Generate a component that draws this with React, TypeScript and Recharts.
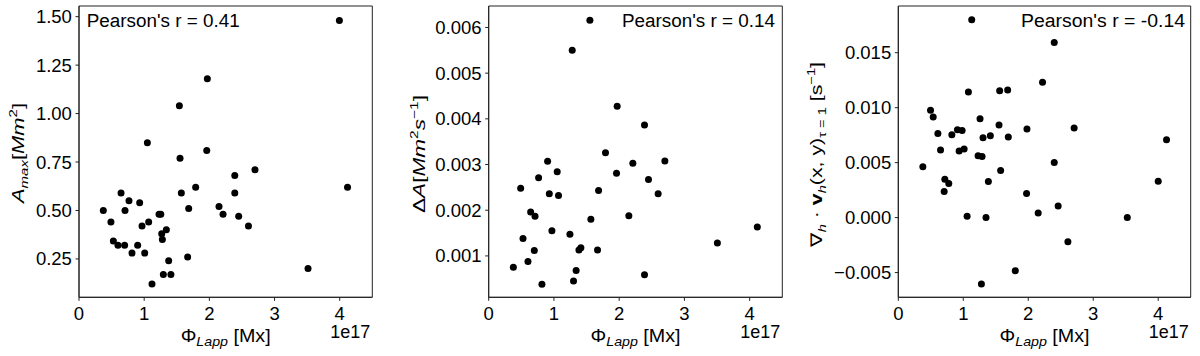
import React from 'react';
import { ScatterChart, Scatter, XAxis, YAxis, ReferenceArea } from 'recharts';

// Φ_Lapp in units of 1e17 Mx
const fluxA = [0.373, 0.49, 0.527, 0.598, 0.645, 0.70, 0.706, 0.767, 0.813, 0.90, 0.931, 0.967, 1.008, 1.049, 1.069, 1.12, 1.228, 1.255, 1.269, 1.279, 1.294, 1.34, 1.376, 1.41, 1.54, 1.55, 1.57, 1.667, 1.683, 1.79, 1.96, 1.969, 2.148, 2.21, 2.39, 2.39, 2.45, 2.60, 2.70, 3.514, 3.995, 4.12];
const areaMax = [0.50, 0.44, 0.342, 0.32, 0.59, 0.32, 0.50, 0.55, 0.28, 0.32, 0.54, 0.42, 0.28, 0.85, 0.44, 0.12, 0.48, 0.48, 0.38, 0.35, 0.17, 0.40, 0.24, 0.17, 1.04, 0.77, 0.59, 0.26, 0.51, 0.62, 0.81, 1.18, 0.52, 0.48, 0.59, 0.68, 0.47, 0.42, 0.71, 0.20, 1.48, 0.62];

const fluxB = [0.378, 0.49, 0.526, 0.602, 0.643, 0.699, 0.71, 0.765, 0.816, 0.903, 0.929, 0.969, 1.05, 1.07, 1.245, 1.28, 1.30, 1.34, 1.383, 1.413, 1.551, 1.566, 1.668, 1.684, 1.79, 1.959, 1.969, 2.148, 2.209, 2.388, 2.388, 2.449, 2.597, 2.70, 3.505, 4.117];
const deltaA = [0.00075, 0.00248, 0.00138, 0.00088, 0.00196, 0.00112, 0.00187, 0.00271, 0.00038, 0.00307, 0.00236, 0.00155, 0.00284, 0.00232, 0.001475, 0.0055, 0.00045, 0.00068, 0.00113, 0.00118, 0.00616, 0.0018, 0.00113, 0.00243, 0.00326, 0.00281, 0.004275, 0.00188, 0.00303, 0.003866, 0.00059, 0.00267, 0.00236, 0.00308, 0.00128, 0.00163];

const fluxC = [0.378, 0.496, 0.537, 0.609, 0.65, 0.706, 0.716, 0.777, 0.824, 0.91, 0.936, 0.982, 1.013, 1.059, 1.079, 1.13, 1.228, 1.258, 1.289, 1.279, 1.304, 1.35, 1.386, 1.417, 1.55, 1.56, 1.575, 1.683, 1.693, 1.80, 1.974, 1.98, 2.153, 2.22, 2.40, 2.40, 2.46, 2.61, 2.706, 3.524, 4.0, 4.128];
const divergence = [0.00462, 0.00976, 0.00915, 0.00766, 0.00614, 0.00237, 0.0035, 0.0031, 0.00754, 0.00799, 0.00605, 0.00793, 0.00623, 0.00012, 0.01143, 0.01799, 0.00562, 0.009, 0.00556, -0.00605, 0.00726, 0.0, 0.00328, 0.00745, 0.00842, 0.01155, 0.00429, 0.01161, 0.00733, -0.00483, 0.00219, 0.00805, 0.00043, 0.01231, 0.01593, 0.00502, 0.00106, -0.00219, 0.00815, 0.0, 0.00331, 0.00708];

const xTicks = [0, 1, 2, 3, 4];
const xDomain: [number, number] = [0, 4.5];
const ticksA = [0.25, 0.5, 0.75, 1.0, 1.25, 1.5];
const ticksB = [0.001, 0.002, 0.003, 0.004, 0.005, 0.006];
const ticksC = [-0.005, 0, 0.005, 0.01, 0.015];
const pearson = ["Pearson's r = 0.41", "Pearson's r = 0.14", "Pearson's r = -0.14"];

const FONT = "'Liberation Sans', Arial, sans-serif";
const AX = '#222';
const FS = 18.5;

const toRows = (xs: number[], ys: number[]) => xs.map((x, i) => ({ x, y: ys[i] }));

const Dot = (p: any) => <circle cx={p.cx} cy={p.cy} r={3.5} fill="#000" />;

const fmtSigned = (d: number) => (v: number) => (v < 0 ? '\u2212' + Math.abs(v).toFixed(d) : Math.abs(v).toFixed(d));

const W = 400;
const H = 356;
const TOP = 6;
const XAXIS_H = 58.7;

interface PanelProps {
  left: number;
  right: number;
  rows: { x: number; y: number }[];
  yDomain: [number, number];
  yTicks: number[];
  fmt: (v: number) => string;
  yLabel: React.ReactNode;
  pearsonText: string;
  pearsonLeft: boolean;
  pearsonX: number;
}

const Panel = ({ left, right, rows, yDomain, yTicks, fmt, yLabel, pearsonText, pearsonLeft, pearsonX }: PanelProps) => {
  const plotRight = W - right;
  const cx = (left + plotRight) / 2;
  return (
    <ScatterChart width={W} height={H} margin={{ top: TOP, right, bottom: 0, left: 0 }}>
      <XAxis
        type="number"
        dataKey="x"
        domain={xDomain}
        ticks={xTicks}
        allowDataOverflow
        height={XAXIS_H}
        stroke={AX}
        tickSize={3.5}
        tickMargin={6}
        tick={{ fontSize: FS, fill: '#000', fontFamily: FONT }}
        tickFormatter={(v: number) => String(v)}
      />
      <YAxis
        type="number"
        dataKey="y"
        domain={yDomain}
        ticks={yTicks}
        allowDataOverflow
        width={left}
        stroke={AX}
        tickSize={3.5}
        tickMargin={3.6}
        tick={{ fontSize: FS, fill: '#000', fontFamily: FONT }}
        tickFormatter={fmt}
      />
      <ReferenceArea x1={xDomain[0]} x2={xDomain[1]} y1={yDomain[0]} y2={yDomain[1]} fill="none" stroke={AX} strokeWidth={1} ifOverflow="visible" />
      <Scatter data={rows} fill="#000" shape={Dot} isAnimationActive={false} />
      <text x={pearsonX} y={27.3} textAnchor={pearsonLeft ? 'start' : 'end'} fontFamily={FONT} fontSize={18} fill="#000" textLength={pearsonText.length > 18 ? 164 : 153} lengthAdjust="spacingAndGlyphs">{pearsonText}</text>
      <text x={cx} y={342} textAnchor="middle" fontFamily={FONT} fontSize={18} fill="#000" textLength={90} lengthAdjust="spacingAndGlyphs">
        <tspan>Φ</tspan>
        <tspan fontStyle="italic" fontSize={13} dy={4}>Lapp</tspan>
        <tspan dy={-4}> [Mx]</tspan>
      </text>
      <text x={plotRight - 2} y={338} textAnchor="end" fontFamily={FONT} fontSize={18} fill="#000">1e17</text>
      {yLabel}
    </ScatterChart>
  );
};

const LabelA = (
  <text transform="translate(23.5,153) rotate(-90)" textAnchor="middle" fontFamily={FONT} fontSize={16} fill="#000" textLength={100} lengthAdjust="spacingAndGlyphs">
    <tspan fontStyle="italic">A</tspan>
    <tspan fontStyle="italic" fontSize={11} dy={4}>max</tspan>
    <tspan dy={-4}>[</tspan>
    <tspan fontStyle="italic">Mm</tspan>
    <tspan fontSize={11} dy={-7}>2</tspan>
    <tspan dy={7}>]</tspan>
  </text>
);

const LabelB = (
  <text transform="translate(25,154) rotate(-90)" textAnchor="middle" fontFamily={FONT} fontSize={16} fill="#000" textLength={118} lengthAdjust="spacingAndGlyphs">
    <tspan>Δ</tspan>
    <tspan fontStyle="italic">A</tspan>
    <tspan>[</tspan>
    <tspan fontStyle="italic">Mm</tspan>
    <tspan fontSize={11} dy={-7}>2</tspan>
    <tspan fontStyle="italic" dy={7}>s</tspan>
    <tspan fontSize={11} dy={-7}>−1</tspan>
    <tspan dy={7}>]</tspan>
  </text>
);

const LabelC = (
  <text transform="translate(22,154.5) rotate(-90)" textAnchor="middle" fontFamily={FONT} fontSize={16} fill="#000" textLength={185} lengthAdjust="spacingAndGlyphs">
    <tspan>∇</tspan>
    <tspan fontStyle="italic" fontSize={11} dy={4}>h</tspan>
    <tspan dy={-4}> · </tspan>
    <tspan fontWeight="bold">v</tspan>
    <tspan fontStyle="italic" fontSize={11} dy={4}>h</tspan>
    <tspan dy={-4}>(x, y)</tspan>
    <tspan fontSize={11} dy={4}>τ = 1</tspan>
    <tspan dy={-4}> [s</tspan>
    <tspan fontSize={11} dy={-7}>−1</tspan>
    <tspan dy={7}>]</tspan>
  </text>
);

export default function App() {
  return (
    <div style={{ position: 'absolute', left: 0, top: 0, width: 1200, height: 356, background: '#fff', display: 'flex' }}>
      <Panel left={79} right={27.7} rows={toRows(fluxA, areaMax)} yDomain={[0.052, 1.555]} yTicks={ticksA} fmt={(v) => v.toFixed(2)} yLabel={LabelA} pearsonText={pearson[0]} pearsonLeft pearsonX={86.7} />
      <Panel left={88.7} right={17.7} rows={toRows(fluxB, deltaA)} yDomain={[0.000094, 0.00647]} yTicks={ticksB} fmt={(v) => v.toFixed(3)} yLabel={LabelB} pearsonText={pearson[1]} pearsonLeft={false} pearsonX={375} />
      <Panel left={98.3} right={9.3} rows={toRows(fluxC, divergence)} yDomain={[-0.00725, 0.01925]} yTicks={ticksC} fmt={fmtSigned(3)} yLabel={LabelC} pearsonText={pearson[2]} pearsonLeft={false} pearsonX={385} />
    </div>
  );
}
